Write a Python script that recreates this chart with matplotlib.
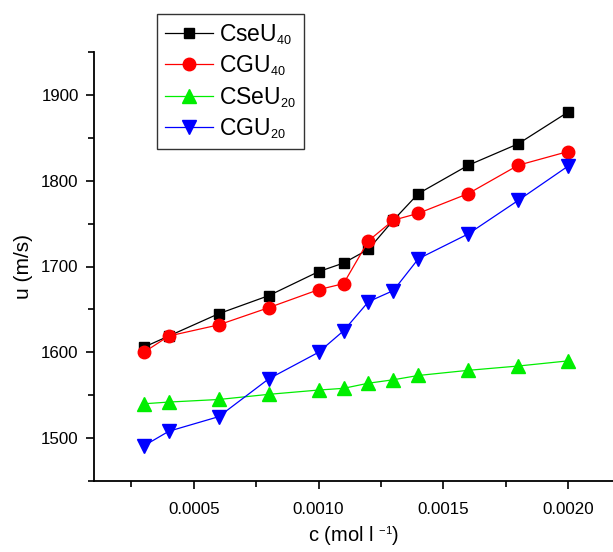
import numpy as np
import matplotlib
matplotlib.use('Agg')
import matplotlib.pyplot as plt
import matplotlib._mathtext as mathtext_impl
from matplotlib.ticker import MultipleLocator, FormatStrFormatter

plt.rcParams['font.family'] = ['Liberation Sans', 'DejaVu Sans']
plt.rcParams['mathtext.fontset'] = 'custom'
plt.rcParams['mathtext.rm'] = 'Liberation Sans'
plt.rcParams['mathtext.it'] = 'Liberation Sans'
# smaller sub/superscripts, closer to the original figure
mathtext_impl.SHRINK_FACTOR = 0.55

# concentration (mol/l)
conc = [0.0003, 0.0004, 0.0006, 0.0008, 0.0010, 0.0011, 0.0012,
        0.0013, 0.0014, 0.0016, 0.0018, 0.0020]

cseu40 = [1606, 1619, 1645, 1666, 1694, 1704, 1720, 1754, 1785, 1818, 1843, 1880]
cgu40 = [1600, 1619, 1632, 1652, 1673, 1680, 1730, 1754, 1762, 1785, 1818, 1834]
cseu20 = [1540, 1542, 1545, 1551, 1556, 1558, 1564, 1568, 1573, 1579, 1584, 1590]
cgu20 = [1491, 1508, 1525, 1569, 1600, 1625, 1659, 1672, 1709, 1738, 1777, 1817]

labels = ['CseU$_{40}$', 'CGU$_{40}$', 'CSeU$_{20}$', 'CGU$_{20}$']

fig = plt.figure(figsize=(6.13, 5.52), dpi=100)
ax = fig.add_axes([94/613, 1 - 481/552, 1 - 94/613, (481 - 52)/552])

ax.plot(conc, cseu40, color='black', marker='s', markersize=7.5, lw=0.9,
        mec='black', label=labels[0])
ax.plot(conc, cgu40, color='red', marker='o', markersize=9, lw=0.9,
        mec='red', label=labels[1])
ax.plot(conc, cseu20, color='#00ee00', marker='^', markersize=9.5, lw=0.9,
        mec='#00ee00', label=labels[2])
ax.plot(conc, cgu20, color='blue', marker='v', markersize=9.5, lw=0.9,
        mec='blue', label=labels[3])

ax.set_xlim(0.0001, 0.00218)
ax.set_ylim(1450, 1950)
ax.xaxis.set_major_locator(MultipleLocator(0.0005))
ax.xaxis.set_minor_locator(MultipleLocator(0.00025))
ax.xaxis.set_major_formatter(FormatStrFormatter('%.4f'))
ax.yaxis.set_major_locator(MultipleLocator(100))
ax.yaxis.set_minor_locator(MultipleLocator(50))

for s in ['top', 'right']:
    ax.spines[s].set_visible(False)
for s in ['left', 'bottom']:
    ax.spines[s].set_linewidth(1.3)

ax.tick_params(which='major', direction='out', length=6, width=1.2, labelsize=12.2, pad=5)
ax.tick_params(axis='x', which='major', pad=9)
ax.tick_params(which='minor', direction='out', length=4, width=1.2)

ax.set_xlabel('c (mol l $^{-1}$)', fontsize=14.5, labelpad=5)
ax.set_ylabel('u (m/s)', fontsize=15, labelpad=6)

leg = ax.legend(loc='upper left', bbox_to_anchor=(157/613, 1 - 14/552),
                bbox_transform=fig.transFigure, borderaxespad=0,
                fontsize=16.5, frameon=True, fancybox=False, handlelength=2.1,
                labelspacing=0.28, handletextpad=0.25, borderpad=0.35)
leg.get_frame().set_edgecolor('black')
leg.get_frame().set_linewidth(1.0)

fig.savefig('out.png', dpi=100)
